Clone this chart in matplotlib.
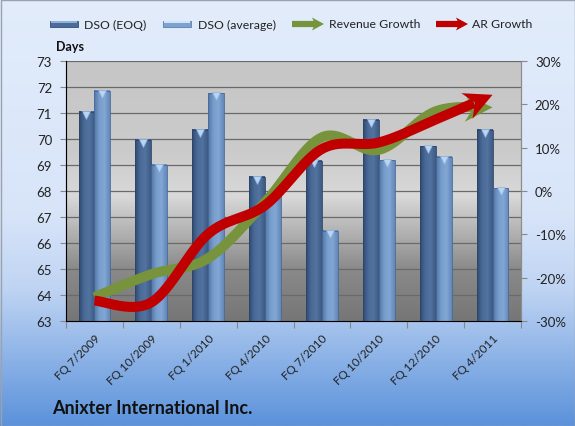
import numpy as np
import matplotlib.pyplot as plt
from matplotlib.patches import Polygon, Rectangle
from matplotlib.colors import LinearSegmentedColormap

quarters = ['FQ 7/2009', 'FQ 10/2009', 'FQ 1/2010', 'FQ 4/2010',
            'FQ 7/2010', 'FQ 10/2010', 'FQ 12/2010', 'FQ 4/2011']
dso_eoq = [71.05, 69.97, 70.36, 68.54, 69.17, 70.74, 69.73, 70.36]
dso_avg = [71.86, 69.01, 71.76, 67.92, 66.47, 69.19, 69.32, 68.10]
revenue_growth = [-24.5, -19.2, -15.5, -2.6, 12.4, 9.5, 18.4, 19.3]
ar_growth = [-25.3, -25.7, -9.9, -3.3, 9.7, 11.2, 16.5, 22.2]

day_ticks = list(range(63, 74))
pct_ticks = [-30, -20, -10, 0, 10, 20, 30]

FONT = ['Lato', 'DejaVu Sans']
plt.rcParams['font.family'] = FONT

W, H = 575, 427
fig = plt.figure(figsize=(W / 100, H / 100), dpi=100)


def smooth(xs, ys, n=40):
    # catmull-rom through the points, like Excel's smoothed line
    p = np.column_stack([xs, ys]).astype(float)
    p = np.vstack([p[0], p, p[-1]])
    out = []
    t = np.linspace(0, 1, n, endpoint=False)[:, None]
    for i in range(1, len(p) - 2):
        p0, p1, p2, p3 = p[i - 1], p[i], p[i + 1], p[i + 2]
        seg = 0.5 * (2 * p1 + (-p0 + p2) * t + (2 * p0 - 5 * p1 + 4 * p2 - p3) * t ** 2
                     + (-p0 + 3 * p1 - 3 * p2 + p3) * t ** 3)
        out.append(seg)
    out.append(p[-2][None])
    return np.vstack(out)


# figure background gradient
bg = fig.add_axes([0, 0, 1, 1], zorder=-10)
bg_cmap = LinearSegmentedColormap.from_list(
    'bg', [(0, '#e2ecfb'), (0.5, '#d8e5f9'), (0.68, '#bfd4f3'), (1, '#5b92db')])
bg.imshow(np.linspace(0, 1, 256)[:, None], cmap=bg_cmap, aspect='auto', extent=[0, 1, 1, 0])
bg.set_xlim(0, 1)
bg.set_ylim(1, 0)
bg.axis('off')

ax = fig.add_axes([66 / W, 1 - 322 / H, 455 / W, 260 / H])
ax.set_facecolor('none')
plot_cmap = LinearSegmentedColormap.from_list(
    'pa', [(0, '#c6c6c6'), (0.35, '#cbcbcb'), (0.52, '#d9d9d9'), (0.8, '#8a8a8a'), (1, '#767676')])
ax.imshow(np.linspace(0, 1, 256)[:, None], cmap=plot_cmap, aspect='auto',
          extent=[0, 1, 0, 1], transform=ax.transAxes, zorder=0)

x = np.arange(len(quarters))
bw = 0.28
eoq_cmap = LinearSegmentedColormap.from_list('eoq', ['#2f4a72', '#4a6b98', '#52739f', '#3c5a84'])
avg_cmap = LinearSegmentedColormap.from_list('avg', ['#5275a6', '#779dcc', '#82a7d4', '#6288ba'])
grad = np.linspace(0, 1, 64)[None, :]
for vals, off, cm, edge in [(dso_eoq, -bw / 2, eoq_cmap, '#2c4468'),
                            (dso_avg, bw / 2, avg_cmap, '#4a6a98')]:
    bars = ax.bar(x + off, np.array(vals) - 63, bw, bottom=63, color='none',
                  edgecolor=edge, lw=0.6, zorder=3)
    for b in bars:
        x0, y0 = b.get_x(), b.get_y()
        ax.imshow(grad, cmap=cm, aspect='auto', zorder=2,
                  extent=[x0, x0 + b.get_width(), y0, y0 + b.get_height()])
    ax.plot(x + off, np.array(vals) - 0.11, ls='none', marker='v', ms=5.5,
            mfc='#b9d5f2', mec='#8fb2dc', mew=0.5, zorder=4)

ax.set_xlim(-0.5, len(quarters) - 0.5)
ax.set_ylim(63, 73)
ax.set_yticks(day_ticks)
ax.set_yticklabels([str(d) for d in day_ticks], fontsize=9.5, color='#222222')
ax.set_axisbelow(True)
ax.yaxis.grid(True, color='#6a6a6a', lw=0.9)
ax.tick_params(axis='y', length=4, color='#888888', pad=6)
ax.set_xticks(np.arange(-0.5, len(quarters), 1))
ax.set_xticklabels([])
ax.tick_params(axis='x', which='major', length=5, color='#888888')
ax.set_xticks(x, minor=True)
ax.set_xticklabels(quarters, minor=True, rotation=45, ha='right', va='top',
                   rotation_mode='anchor', fontsize=8.5, color='#222222')
ax.tick_params(axis='x', which='minor', length=0, pad=8)
ax.spines['top'].set_visible(False)
for sp in ['left', 'right', 'bottom']:
    ax.spines[sp].set_color('#8c8c8c')

ax2 = ax.twinx()
ax2.set_ylim(-30, 30)
ax2.set_yticks(pct_ticks)
ax2.set_yticklabels([f'{p}%' for p in pct_ticks], fontsize=9.5, color='#222222')
ax2.tick_params(axis='y', length=4, color='#888888', pad=6)
ax2.spines['top'].set_visible(False)
ax2.spines['right'].set_color('#8c8c8c')


def arrow_line(axis, ys, color, lw_px=10, head_len=28, head_w=14, notch=9, z=5):
    pts = smooth(x, ys)
    disp = axis.transData.transform(pts)
    tip = disp[-1]
    d = tip - disp[-6]
    d = d / np.hypot(*d)
    nrm = np.array([-d[1], d[0]])
    keep = np.hypot(*(disp - tip).T) > head_len * 0.7
    axis.plot(pts[keep, 0], pts[keep, 1], color=color, lw=lw_px * 0.72,
              solid_capstyle='butt', solid_joinstyle='round', zorder=z)
    head = np.array([tip,
                     tip - head_len * d + head_w * nrm,
                     tip - (head_len - notch) * d,
                     tip - head_len * d - head_w * nrm])
    head = axis.transData.inverted().transform(head)
    axis.add_patch(Polygon(head, closed=True, color=color, lw=0, zorder=z))


arrow_line(ax2, revenue_growth, '#77933c', z=5)
arrow_line(ax2, ar_growth, '#c00000', z=6)

# overlay in pixel coordinates for legend and titles
ov = fig.add_axes([0, 0, 1, 1], zorder=10)
ov.set_xlim(0, W)
ov.set_ylim(H, 0)
ov.axis('off')
ov.patch.set_alpha(0)
ov.add_patch(Rectangle((0.5, 0.5), W - 1, H - 1, fill=False, ec='#9aa3ad', lw=1))

ly = 25
ov.add_patch(Rectangle((50, ly - 3), 28, 6, fc='#4b6b98', ec='#34507a', lw=0.6))
ov.add_patch(Rectangle((51, ly - 3), 26, 1.5, fc='#8fb0dc', lw=0))
ov.text(84, ly, 'DSO (EOQ)', fontsize=8.8, va='center', color='#222222')
ov.add_patch(Rectangle((163, ly - 3), 28, 6, fc='#7ca2d0', ec='#5a7fb0', lw=0.6))
ov.add_patch(Rectangle((164, ly - 3), 26, 1.5, fc='#d2e4f8', lw=0))
ov.text(198, ly, 'DSO (average)', fontsize=8.8, va='center', color='#222222')


def legend_arrow(x0, x1, color):
    ov.plot([x0, x1 - 9], [ly, ly], color=color, lw=4.5, solid_capstyle='butt')
    ov.add_patch(Polygon([(x1, ly), (x1 - 12, ly - 6.5), (x1 - 9, ly), (x1 - 12, ly + 6.5)],
                         closed=True, color=color, lw=0))


legend_arrow(292, 324, '#77933c')
ov.text(329, ly, 'Revenue Growth', fontsize=8.8, va='center', color='#222222')
legend_arrow(436, 468, '#c00000')
ov.text(472, ly, 'AR Growth', fontsize=8.8, va='center', color='#222222')

ov.text(70, 47, 'Days', fontsize=9, fontweight='bold', ha='center', va='center', color='#111111')
ov.text(52, 409, 'Anixter International Inc.', fontsize=13, fontweight='bold',
        va='center', color='#111111')

fig.savefig('out.png', dpi=100)
